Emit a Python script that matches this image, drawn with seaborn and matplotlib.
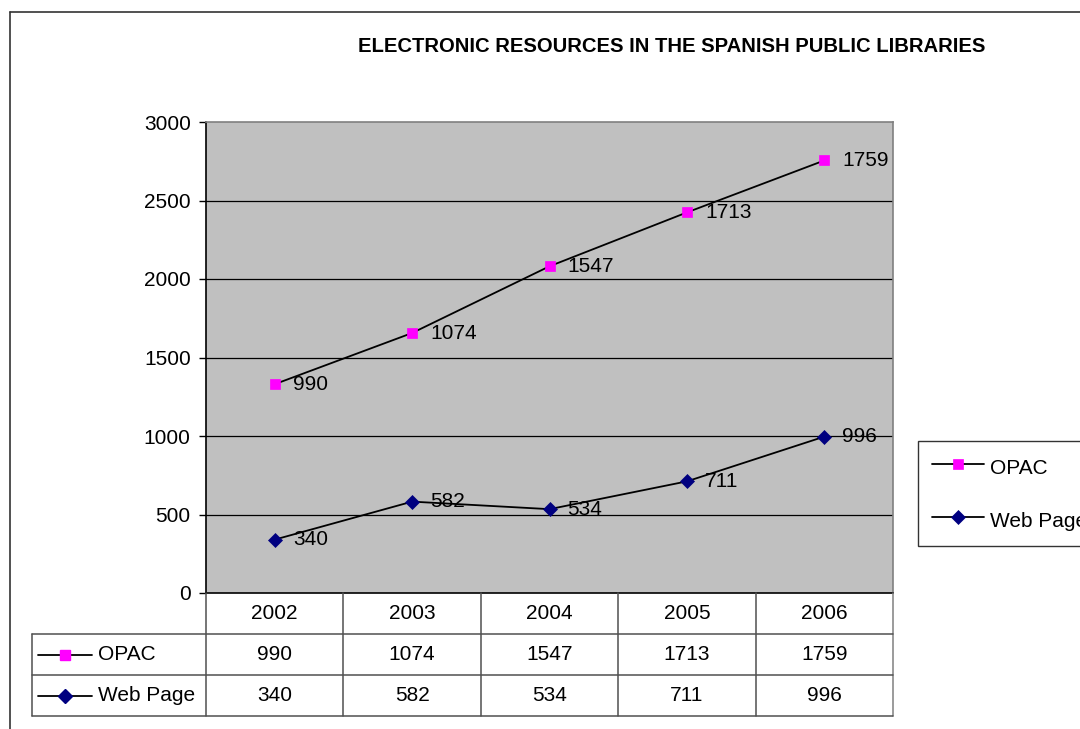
import matplotlib
matplotlib.use("Agg")
import matplotlib.pyplot as plt
import numpy as np
import pandas as pd
import seaborn as sns
from matplotlib.lines import Line2D

# ---------------- data ----------------
years = ["2002", "2003", "2004", "2005", "2006"]
opac = [990, 1074, 1547, 1713, 1759]
web_page = [340, 582, 534, 711, 996]
series_names = ["OPAC", "Web Page"]
yticks = [0, 500, 1000, 1500, 2000, 2500, 3000]
title = "ELECTRONIC RESOURCES IN THE SPANISH PUBLIC LIBRARIES"

sns.set_theme(style="white")
plt.rcParams['font.family'] = ['Liberation Sans', 'DejaVu Sans']
plt.rcParams['text.color'] = 'black'
plt.rcParams['axes.labelcolor'] = 'black'
plt.rcParams['xtick.color'] = 'black'
plt.rcParams['ytick.color'] = 'black'

W, H = 1080, 729
fig = plt.figure(figsize=(W / 100, H / 100), dpi=100)
fig.patch.set_facecolor("white")


def fx(px):
    return px / W


def fy(py):
    return 1 - py / H


# outer chart-area frame (extends beyond the right / bottom edges)
fig.add_artist(Line2D([fx(10), fx(1100)], [fy(12), fy(12)], color="#333333", lw=1.2))
fig.add_artist(Line2D([fx(10), fx(10)], [fy(12), fy(760)], color="#333333", lw=1.2))

# ---------------- plot area ----------------
L, R, T, B = 206, 893, 122, 593
ax = fig.add_axes([fx(L), fy(B), (R - L) / W, (B - T) / H])
ax.set_facecolor("#C0C0C0")

df = pd.DataFrame({"x": np.arange(len(years)), "year": years,
                   "OPAC": opac, "Web Page": web_page})
# stacked line chart: OPAC is drawn on top of Web Page
df["OPAC_stacked"] = df["OPAC"] + df["Web Page"]

for t in yticks[1:-1]:
    ax.axhline(t, color="black", lw=0.9, zorder=1)

sns.lineplot(data=df, x="x", y="OPAC_stacked", ax=ax, color="black", lw=1.3,
             marker="s", markersize=7.5, markerfacecolor="#FF00FF",
             markeredgecolor="#FF00FF", markeredgewidth=0.5, zorder=3,
             label=series_names[0], legend=False)
sns.lineplot(data=df, x="x", y="Web Page", ax=ax, color="black", lw=1.3,
             marker="D", markersize=7.5, markerfacecolor="#000080",
             markeredgecolor="#000080", markeredgewidth=0.5, zorder=3,
             label=series_names[1], legend=False)

for i, row in df.iterrows():
    ax.annotate(str(row["OPAC"]), (row["x"], row["OPAC_stacked"]), xytext=(13, 0),
                textcoords="offset points", ha="left", va="center", fontsize=15,
                color="black")
    ax.annotate(str(row["Web Page"]), (row["x"], row["Web Page"]), xytext=(13, 0),
                textcoords="offset points", ha="left", va="center", fontsize=15,
                color="black")

ax.set_xlim(-0.5, len(years) - 0.5)
ax.set_ylim(0, 3000)
ax.set_yticks(yticks)
ax.set_xticks([])
ax.set_xlabel("")
ax.set_ylabel("")
ax.grid(False)
ax.tick_params(axis="y", direction="out", length=5, width=1, color="black",
               labelcolor="black", labelsize=15, pad=6, left=True)
for s in ["left", "bottom"]:
    ax.spines[s].set_color("black")
    ax.spines[s].set_linewidth(1.2)
for s in ["top", "right"]:
    ax.spines[s].set_color("#808080")
    ax.spines[s].set_linewidth(1.2)

# ---------------- legend ----------------
leg = ax.legend(handles=[l for l in ax.get_lines() if l.get_label() in series_names],
                labels=series_names, loc="upper left",
                bbox_to_anchor=(fx(918), fy(441)), bbox_transform=fig.transFigure,
                frameon=True, fancybox=False, shadow=False, fontsize=15,
                handlelength=2.5, handletextpad=0.3, borderpad=0.65,
                handleheight=1.5, labelspacing=1.3, borderaxespad=0,
                labelcolor="black")
leg.get_frame().set_edgecolor("black")
leg.get_frame().set_linewidth(1.0)
leg.get_frame().set_facecolor("white")

# ---------------- data table ----------------
TL, TB = 32, 716
tax = fig.add_axes([fx(TL), fy(TB), (R - TL) / W, (TB - B) / H])
colw = (R - L) / len(years)
xleft = -0.5 - (L - TL) / colw
tax.set_xlim(xleft, len(years) - 0.5)
tax.set_ylim(3, 0)
tax.axis("off")
lc = "#505050"
for k in range(len(years) + 1):
    tax.plot([k - 0.5, k - 0.5], [0, 3], color=lc if k < len(years) else "#808080",
             lw=1.1, clip_on=False)
tax.plot([xleft, xleft], [1, 3], color=lc, lw=1.1, clip_on=False)
for yy in [1, 2, 3]:
    tax.plot([xleft, len(years) - 0.5], [yy, yy], color=lc, lw=1.1, clip_on=False)

for i, yr in enumerate(years):
    tax.text(i, 0.5, yr, ha="center", va="center", fontsize=15)
    tax.text(i, 1.5, str(opac[i]), ha="center", va="center", fontsize=15)
    tax.text(i, 2.5, str(web_page[i]), ha="center", va="center", fontsize=15)

# row label keys
k0 = xleft + (38 - TL) / colw
k1 = xleft + (92 - TL) / colw
km = (k0 + k1) / 2
kt = xleft + (98 - TL) / colw
tax.plot([k0, k1], [1.5, 1.5], color="black", lw=1.3, clip_on=False)
tax.plot([km], [1.5], marker="s", markersize=7.5, color="#FF00FF", clip_on=False)
tax.plot([k0, k1], [2.5, 2.5], color="black", lw=1.3, clip_on=False)
tax.plot([km], [2.5], marker="D", markersize=7.5, color="#000080", clip_on=False)
tax.text(kt, 1.5, series_names[0], ha="left", va="center", fontsize=15)
tax.text(kt, 2.5, series_names[1], ha="left", va="center", fontsize=15)

# ---------------- title ----------------
fig.text(fx(672), fy(47), title, ha="center", va="center", fontsize=14.6,
         fontweight="bold", color="black")

fig.savefig("out.png", dpi=100)
